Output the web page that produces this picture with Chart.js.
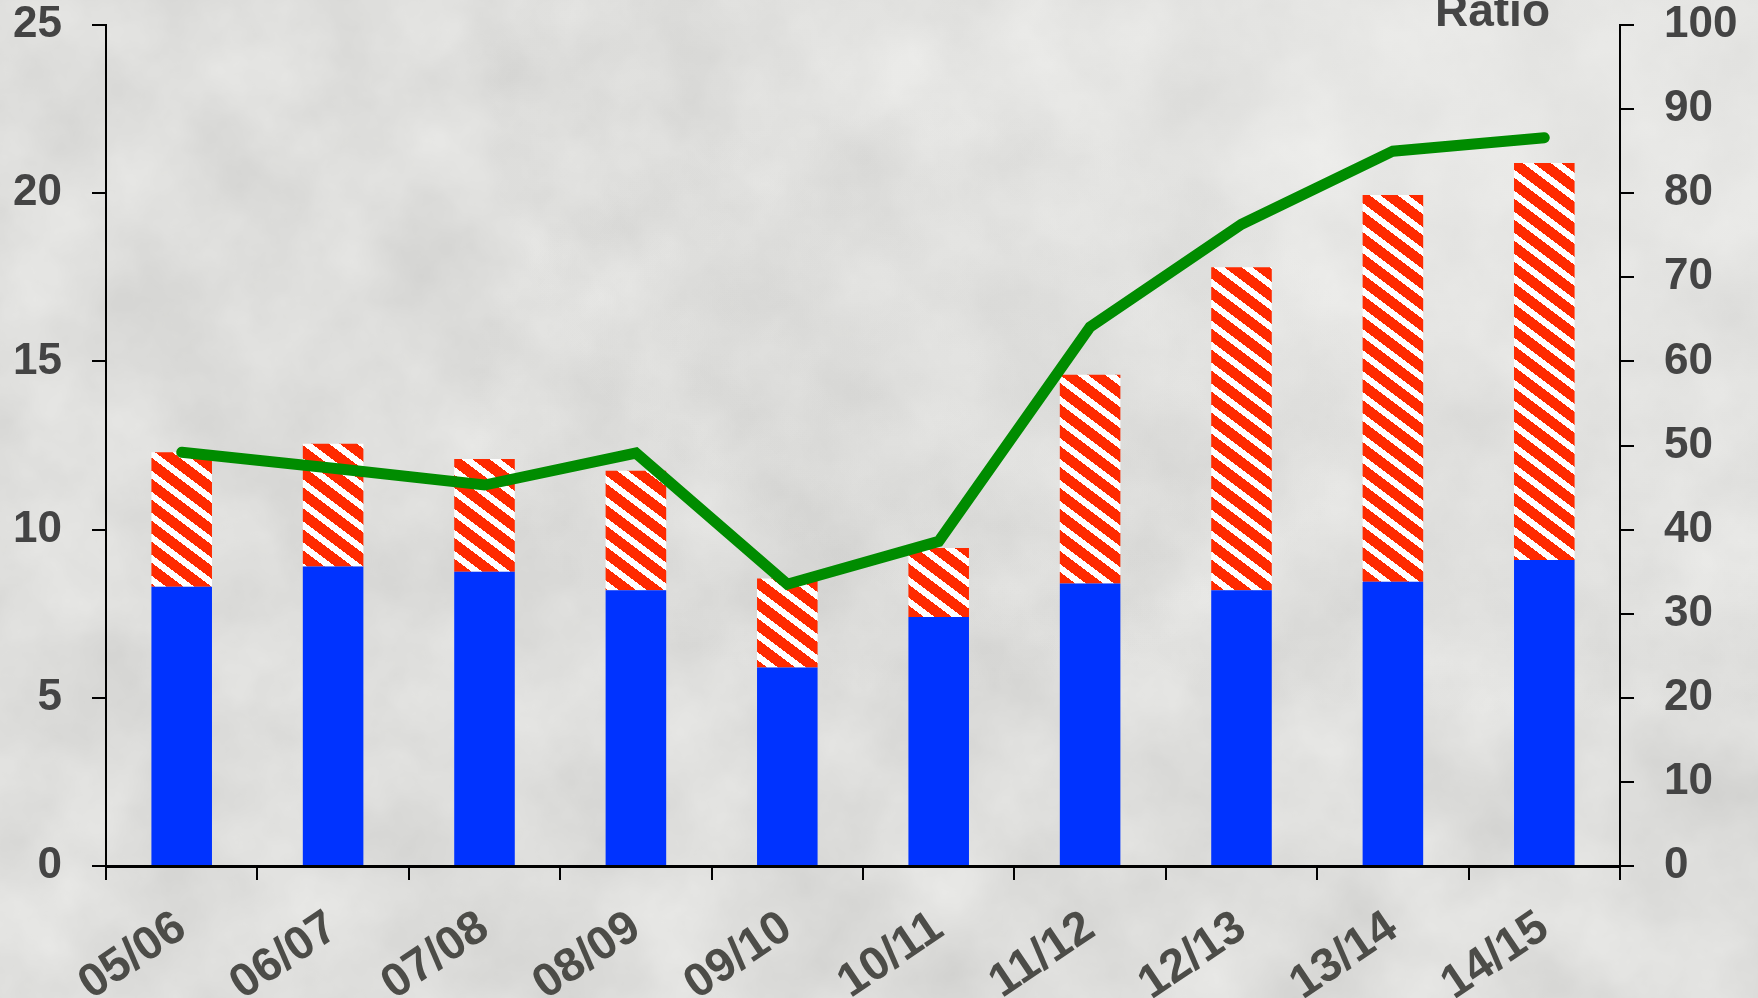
<!DOCTYPE html>
<html>
<head>
<meta charset="utf-8">
<script src="https://cdn.jsdelivr.net/npm/chart.js@4"></script>
<style>
  html, body { margin: 0; padding: 0; }
  body {
    width: 1758px;
    height: 998px;
    overflow: hidden;
    background-color: #dcdcda;
  }
  #wrap { position: relative; width: 1758px; height: 998px; }
</style>
</head>
<body>
<div id="wrap"><canvas id="ratioChart" width="1758" height="998"></canvas></div>
<script>
const seasons = ['05/06', '06/07', '07/08', '08/09', '09/10', '10/11', '11/12', '12/13', '13/14', '14/15'];
const baseValues = [8.3, 8.9, 8.75, 8.2, 5.9, 7.4, 8.4, 8.2, 8.45, 9.1];
const extraValues = [4.0, 3.65, 3.35, 3.55, 2.65, 2.05, 6.2, 9.6, 11.5, 11.8];
const ratioValues = [49.2, 47.3, 45.3, 49.1, 33.5, 38.6, 64.1, 76.3, 85.0, 86.6];
const leftTicks = [0, 5, 10, 15, 20, 25];
const rightTicks = [0, 10, 20, 30, 40, 50, 60, 70, 80, 90, 100];

// soft marble backdrop
const noiseSvg =
  "<svg xmlns='http://www.w3.org/2000/svg' width='1758' height='998'>" +
  "<filter id='n' color-interpolation-filters='sRGB'>" +
  "<feTurbulence type='fractalNoise' baseFrequency='0.008' numOctaves='5' seed='7'/>" +
  "<feColorMatrix values='0.12 0 0 0 0.81  0.12 0 0 0 0.81  0.12 0 0 0 0.802  0 0 0 0 1'/>" +
  "</filter><rect width='100%' height='100%' filter='url(#n)'/></svg>";
document.body.style.backgroundImage =
  'radial-gradient(ellipse at 88% 12%, rgba(244,244,242,0.45), rgba(244,244,242,0) 50%),' +
  'radial-gradient(ellipse at 52% 40%, rgba(190,190,188,0.18), rgba(190,190,188,0) 35%),' +
  'url("data:image/svg+xml,' + encodeURIComponent(noiseSvg) + '")';

// red with white diagonal stripes, built pixel by pixel so the tile wraps cleanly
function makeHatch() {
  const w = 28, h = 21, band = 8;
  const c = document.createElement('canvas');
  c.width = w;
  c.height = h;
  const g = c.getContext('2d');
  const img = g.createImageData(w, h);
  for (let y = 0; y < h; y++) {
    for (let x = 0; x < w; x++) {
      const phase = (((y - x * h / w) % h) + h) % h;
      const white = phase < band;
      const i = (y * w + x) * 4;
      img.data[i] = 255;
      img.data[i + 1] = white ? 255 : 42;
      img.data[i + 2] = white ? 255 : 0;
      img.data[i + 3] = 255;
    }
  }
  g.putImageData(img, 0, 0);
  return g.createPattern(c, 'repeat');
}

const axisFont = { family: '"Liberation Sans", Arial, sans-serif', size: 44, weight: 'bold', lineHeight: 1 };
const seasonFont = { family: '"Liberation Sans", Arial, sans-serif', size: 47, weight: 'bold', lineHeight: 1 };

const ratioTitle = {
  id: 'ratioTitle',
  afterDraw(chart) {
    const ctx = chart.ctx;
    ctx.save();
    ctx.font = 'bold 46px "Liberation Sans", Arial, sans-serif';
    ctx.fillStyle = '#454545';
    ctx.textAlign = 'right';
    ctx.textBaseline = 'alphabetic';
    ctx.fillText('Ratio', chart.chartArea.right - 70, chart.chartArea.top + 1);
    ctx.restore();
  }
};

const ctx = document.getElementById('ratioChart').getContext('2d');
const hatch = makeHatch();

new Chart(ctx, {
  type: 'bar',
  data: {
    labels: seasons,
    datasets: [
      {
        type: 'line',
        data: ratioValues,
        yAxisID: 'y1',
        borderColor: '#008c00',
        borderWidth: 11,
        borderCapStyle: 'round',
        borderJoinStyle: 'miter',
        pointRadius: 0,
        tension: 0,
        fill: false,
        order: 0
      },
      {
        data: baseValues,
        yAxisID: 'y',
        backgroundColor: '#0033ff',
        borderWidth: 0,
        barPercentage: 0.4,
        categoryPercentage: 1,
        order: 1
      },
      {
        data: extraValues,
        yAxisID: 'y',
        backgroundColor: hatch,
        borderWidth: 0,
        barPercentage: 0.4,
        categoryPercentage: 1,
        order: 2
      }
    ]
  },
  options: {
    responsive: false,
    animation: false,
    devicePixelRatio: 1,
    layout: { padding: { top: 25, left: 0, right: 0, bottom: 0 } },
    plugins: {
      legend: { display: false },
      tooltip: { enabled: false }
    },
    scales: {
      x: {
        stacked: true,
        offset: true,
        grid: {
          offset: true,
          drawOnChartArea: false,
          drawTicks: true,
          tickLength: 14,
          color: '#000',
          lineWidth: 2
        },
        border: { display: true, color: '#000', width: 3 },
        ticks: {
          autoSkip: false,
          minRotation: 34,
          maxRotation: 34,
          padding: 24,
          color: '#4c4c48',
          font: seasonFont
        },
        afterFit(scale) {
          scale.height = 132;
          scale.paddingLeft = 0;
          scale.paddingRight = 0;
        }
      },
      y: {
        stacked: true,
        position: 'left',
        min: 0,
        max: 25,
        afterBuildTicks(scale) {
          scale.ticks = leftTicks.map(v => ({ value: v }));
        },
        grid: {
          drawOnChartArea: false,
          drawTicks: true,
          tickLength: 14,
          color: '#000',
          lineWidth: 2
        },
        border: { display: true, color: '#000', width: 2 },
        ticks: { padding: 30, color: '#444444', font: axisFont },
        afterFit(scale) {
          scale.width = 106;
          scale.paddingTop = 0;
          scale.paddingBottom = 0;
        }
      },
      y1: {
        position: 'right',
        min: 0,
        max: 100,
        afterBuildTicks(scale) {
          scale.ticks = rightTicks.map(v => ({ value: v }));
        },
        grid: {
          drawOnChartArea: false,
          drawTicks: true,
          tickLength: 14,
          color: '#000',
          lineWidth: 2
        },
        border: { display: true, color: '#000', width: 2 },
        ticks: { padding: 30, color: '#444444', font: axisFont },
        afterFit(scale) {
          scale.width = 138;
          scale.paddingTop = 0;
          scale.paddingBottom = 0;
        }
      }
    }
  },
  plugins: [ratioTitle]
});
</script>
</body>
</html>
